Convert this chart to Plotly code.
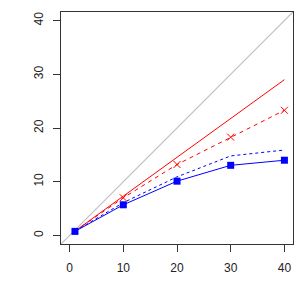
import plotly.graph_objects as go

x = [1, 10, 20, 30, 40]
red_solid = [0.8, 7.3, 14.5, 21.8, 29.0]
red_dashed = [0.8, 7.0, 13.2, 18.3, 23.3]
blue_dotted = [0.8, 6.1, 10.9, 14.8, 15.9]
blue_solid = [0.75, 5.7, 10.1, 13.05, 14.0]
tick_vals = [0, 10, 20, 30, 40]
axis_range = [-1.6, 41.6]

fig = go.Figure()
fig.add_trace(go.Scatter(x=axis_range, y=axis_range, mode="lines",
                         line=dict(color="#BEBEBE", width=1.2)))
fig.add_trace(go.Scatter(x=x, y=red_solid, mode="lines",
                         line=dict(color="#FF0000", width=1)))
fig.add_trace(go.Scatter(x=x[1:], y=red_dashed[1:], mode="markers",
                         marker=dict(symbol="x-thin", size=7, line=dict(color="#FF0000", width=1))))
fig.add_trace(go.Scatter(x=x, y=red_dashed, mode="lines",
                         line=dict(color="#FF0000", width=1, dash="4px,4px")))
fig.add_trace(go.Scatter(x=x, y=blue_dotted, mode="lines",
                         line=dict(color="#0000FF", width=1, dash="3px,3px")))
fig.add_trace(go.Scatter(x=x, y=blue_solid, mode="lines+markers",
                         line=dict(color="#0000FF", width=1),
                         marker=dict(symbol="square", size=7, color="#0000FF")))

axis_common = dict(range=axis_range, tickvals=tick_vals, ticks="outside", ticklen=7,
                   tickcolor="#333333", showgrid=False, zeroline=False,
                   showline=True, linecolor="#333333", linewidth=1.3, mirror=True,
                   ticklabelstandoff=5,
                   tickfont=dict(family="Liberation Sans, Arial", size=12, color="#222222"))
fig.update_xaxes(**axis_common)
fig.update_yaxes(**axis_common, tickangle=-90)
fig.update_layout(width=289, height=289, showlegend=False,
                  margin=dict(l=53, r=4, t=4, b=53),
                  plot_bgcolor="white", paper_bgcolor="white")
fig.write_html("out.html")
